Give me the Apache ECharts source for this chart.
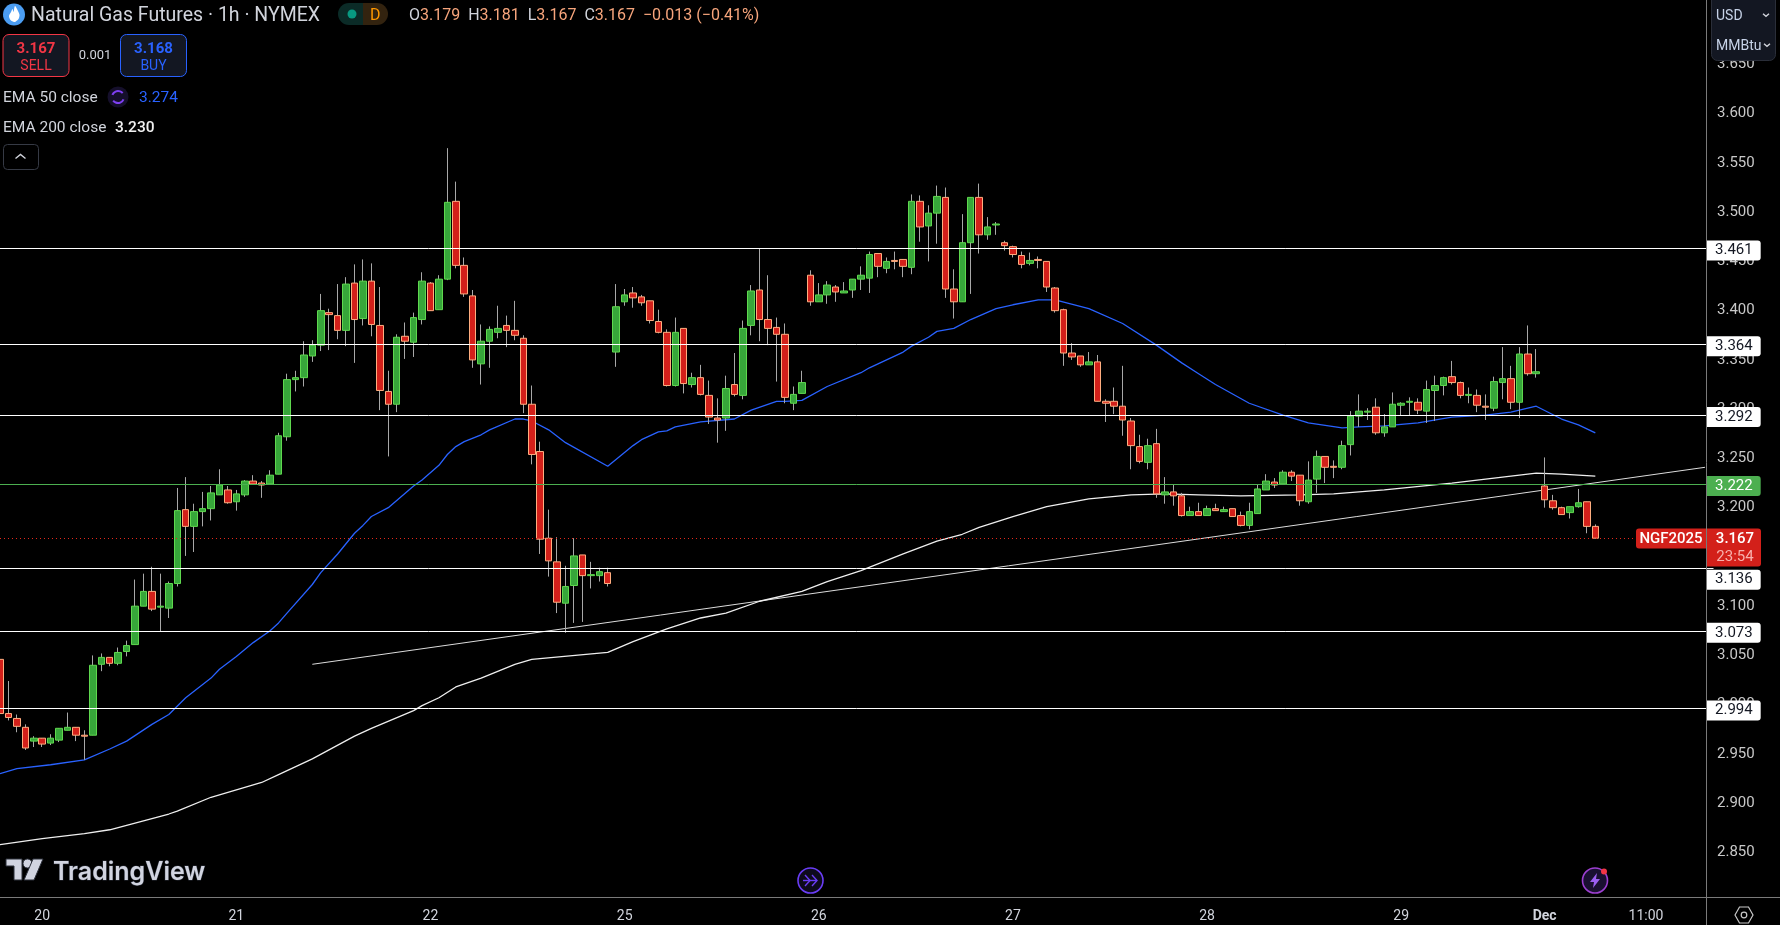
<!DOCTYPE html>
<html>
<head>
<meta charset="utf-8">
<title>Natural Gas Futures</title>
<script src="https://cdn.jsdelivr.net/npm/echarts@6/dist/echarts.min.js"></script>
<style>
  html, body { margin: 0; padding: 0; background: #000; }
  #main { width: 1780px; height: 925px; }
</style>
</head>
<body>
<div id="main"></div>
<script>
// hourly candles: open, close, low, high
var candles = [
[3.044,2.989,2.989,3.044],[2.989,2.985,2.982,3.022],[2.984,2.976,2.970,2.988],[2.975,2.954,2.952,2.978],[2.961,2.964,2.955,2.966],
[2.964,2.958,2.955,2.964],[2.959,2.964,2.957,2.968],[2.962,2.974,2.960,2.974],[2.972,2.975,2.972,2.990],[2.975,2.967,2.961,2.975],
[2.967,2.966,2.942,2.972],[2.967,3.038,2.967,3.048],[3.039,3.046,3.032,3.050],[3.046,3.040,3.037,3.046],[3.040,3.051,3.038,3.056],
[3.052,3.058,3.047,3.063],[3.059,3.098,3.059,3.125],[3.098,3.113,3.098,3.131],[3.113,3.095,3.093,3.138],[3.097,3.098,3.072,3.131],
[3.096,3.121,3.086,3.123],[3.121,3.195,3.118,3.218],[3.196,3.179,3.149,3.229],[3.179,3.194,3.153,3.202],[3.194,3.197,3.179,3.214],
[3.197,3.213,3.185,3.220],[3.211,3.221,3.211,3.237],[3.216,3.203,3.202,3.220],[3.204,3.212,3.195,3.216],[3.211,3.225,3.209,3.226],
[3.225,3.222,3.222,3.231],[3.223,3.221,3.208,3.225],[3.222,3.231,3.222,3.236],[3.232,3.271,3.232,3.274],[3.270,3.328,3.266,3.334],
[3.328,3.330,3.316,3.337],[3.330,3.353,3.321,3.367],[3.352,3.363,3.346,3.368],[3.363,3.398,3.357,3.415],[3.396,3.394,3.358,3.400],
[3.393,3.378,3.369,3.425],[3.378,3.425,3.362,3.432],[3.426,3.389,3.345,3.445],[3.390,3.428,3.383,3.450],[3.428,3.384,3.372,3.446],
[3.383,3.317,3.297,3.422],[3.316,3.303,3.250,3.337],[3.303,3.371,3.295,3.374],[3.372,3.367,3.349,3.386],[3.366,3.391,3.351,3.396],
[3.389,3.428,3.384,3.437],[3.426,3.398,3.398,3.427],[3.399,3.430,3.399,3.434],[3.430,3.508,3.429,3.563],[3.509,3.444,3.441,3.529],
[3.444,3.415,3.412,3.452],[3.413,3.348,3.340,3.419],[3.344,3.367,3.323,3.384],[3.367,3.379,3.340,3.382],[3.376,3.380,3.370,3.403],
[3.383,3.378,3.361,3.393],[3.378,3.373,3.368,3.408],[3.370,3.303,3.294,3.373],[3.303,3.252,3.242,3.322],[3.255,3.166,3.151,3.265],
[3.167,3.144,3.128,3.196],[3.143,3.102,3.091,3.168],[3.101,3.118,3.071,3.139],[3.119,3.149,3.081,3.167],[3.150,3.129,3.082,3.150],
[3.129,3.130,3.116,3.143],[3.129,3.133,3.123,3.137],[3.132,3.121,3.118,3.137],[3.356,3.402,3.341,3.425],[3.407,3.414,3.403,3.420],
[3.416,3.411,3.401,3.422],[3.412,3.406,3.403,3.414],[3.408,3.388,3.385,3.408],[3.387,3.376,3.375,3.399],[3.376,3.322,3.321,3.379],
[3.322,3.376,3.321,3.391],[3.380,3.324,3.314,3.380],[3.323,3.330,3.320,3.335],[3.330,3.313,3.312,3.343],[3.312,3.290,3.283,3.327],
[3.289,3.287,3.264,3.309],[3.289,3.319,3.276,3.332],[3.323,3.313,3.311,3.355],[3.312,3.380,3.308,3.388],[3.383,3.418,3.373,3.424],
[3.419,3.389,3.367,3.461],[3.389,3.380,3.363,3.434],[3.381,3.374,3.326,3.391],[3.374,3.310,3.304,3.385],[3.304,3.313,3.297,3.321],
[3.314,3.325,3.314,3.337],[3.434,3.407,3.403,3.439],[3.407,3.414,3.407,3.426],[3.414,3.424,3.405,3.428],[3.422,3.417,3.407,3.424],
[3.416,3.418,3.416,3.427],[3.419,3.430,3.411,3.430],[3.430,3.434,3.419,3.443],[3.431,3.455,3.416,3.458],[3.456,3.443,3.432,3.456],
[3.441,3.448,3.436,3.452],[3.449,3.448,3.440,3.458],[3.450,3.443,3.432,3.450],[3.442,3.509,3.435,3.516],[3.509,3.483,3.468,3.515],
[3.484,3.497,3.448,3.505],[3.497,3.514,3.466,3.525],[3.513,3.420,3.411,3.523],[3.420,3.407,3.390,3.440],[3.407,3.467,3.407,3.496],
[3.467,3.513,3.415,3.513],[3.513,3.475,3.456,3.527],[3.475,3.483,3.470,3.493],[3.485,3.486,3.475,3.488],[3.467,3.464,3.459,3.469],
[3.463,3.455,3.452,3.464],[3.454,3.445,3.441,3.458],[3.446,3.449,3.444,3.457],[3.450,3.449,3.441,3.453],[3.448,3.422,3.417,3.448],
[3.421,3.398,3.396,3.422],[3.399,3.355,3.342,3.400],[3.355,3.351,3.348,3.365],[3.352,3.343,3.341,3.352],[3.343,3.346,3.343,3.356],
[3.346,3.306,3.306,3.353],[3.306,3.304,3.285,3.308],[3.306,3.301,3.293,3.320],[3.301,3.287,3.271,3.342],[3.286,3.261,3.237,3.289],
[3.260,3.245,3.243,3.272],[3.244,3.261,3.237,3.268],[3.263,3.212,3.208,3.278],[3.211,3.214,3.202,3.229],[3.214,3.210,3.200,3.221],
[3.210,3.190,3.189,3.213],[3.190,3.194,3.190,3.199],[3.194,3.190,3.190,3.203],[3.190,3.197,3.190,3.200],[3.197,3.195,3.195,3.202],
[3.194,3.196,3.194,3.199],[3.197,3.189,3.189,3.197],[3.190,3.180,3.179,3.194],[3.180,3.194,3.176,3.203],[3.192,3.217,3.192,3.222],
[3.216,3.225,3.216,3.232],[3.224,3.221,3.218,3.228],[3.222,3.234,3.221,3.236],[3.234,3.230,3.225,3.236],[3.231,3.205,3.200,3.231],
[3.204,3.226,3.202,3.245],[3.227,3.250,3.213,3.256],[3.250,3.239,3.223,3.250],[3.240,3.239,3.228,3.246],[3.239,3.261,3.237,3.266],
[3.262,3.291,3.251,3.296],[3.291,3.296,3.280,3.313],[3.295,3.296,3.287,3.299],[3.300,3.274,3.272,3.309],[3.274,3.280,3.270,3.293],
[3.280,3.303,3.280,3.315],[3.302,3.304,3.292,3.305],[3.305,3.306,3.292,3.310],[3.305,3.297,3.293,3.309],[3.296,3.318,3.284,3.327],
[3.317,3.322,3.286,3.332],[3.322,3.330,3.312,3.331],[3.331,3.325,3.323,3.347],[3.325,3.312,3.309,3.326],[3.312,3.313,3.304,3.320],
[3.312,3.302,3.295,3.318],[3.301,3.300,3.287,3.313],[3.299,3.326,3.296,3.331],[3.325,3.329,3.308,3.361],[3.329,3.305,3.298,3.342],
[3.305,3.354,3.289,3.361],[3.354,3.334,3.332,3.383],[3.334,3.336,3.330,3.359],[3.220,3.206,3.198,3.249],[3.205,3.198,3.196,3.211],
[3.198,3.191,3.191,3.199],[3.193,3.199,3.187,3.199],[3.199,3.203,3.198,3.217],[3.204,3.179,3.172,3.204],[3.179,3.167,3.167,3.181]
];

// EMA readings, [candle index, price]
var ema50 = [
[0,2.928],[2,2.933],[6,2.937],[10,2.942],[13,2.953],[15,2.961],[18,2.978],[20,2.988],[22,3.005],[25,3.025],[26,3.034],[28,3.047],
[30,3.061],[32,3.073],[33,3.081],[34,3.091],[37,3.120],[38,3.132],[40,3.151],[42,3.172],[43,3.180],[44,3.189],[46,3.198],[49,3.220],
[50,3.226],[52,3.241],[53,3.252],[54,3.260],[55,3.265],[57,3.272],[58,3.277],[61,3.288],[62,3.288],[63,3.286],[65,3.277],[67,3.264],
[72,3.240],[75,3.261],[76,3.267],[78,3.275],[79,3.276],[80,3.280],[83,3.285],[87,3.288],[89,3.297],[92,3.306],[93,3.306],[95,3.307],
[98,3.321],[102,3.335],[103,3.340],[107,3.356],[108,3.362],[110,3.371],[111,3.377],[113,3.380],[115,3.389],[118,3.400],[120,3.404],
[123,3.409],[125,3.409],[129,3.400],[133,3.385],[137,3.363],[140,3.345],[142,3.334],[144,3.323],[148,3.304],[152,3.292],[155,3.284],
[159,3.279],[161,3.280],[164,3.281],[168,3.284],[172,3.290],[176,3.292],[179,3.295],[182,3.301],[185,3.288],[187,3.282],[189,3.274]
];
var ema200 = [
[0,2.856],[5,2.862],[10,2.867],[13,2.871],[20,2.887],[21,2.890],[25,2.904],[31,2.919],[33,2.927],[37,2.943],[42,2.966],[44,2.974],
[49,2.992],[50,2.997],[52,3.005],[54,3.016],[57,3.025],[61,3.039],[63,3.044],[72,3.051],[75,3.062],[79,3.075],[83,3.086],[86,3.091],
[90,3.103],[95,3.113],[98,3.123],[102,3.134],[107,3.151],[111,3.164],[114,3.171],[116,3.178],[120,3.189],[124,3.199],[129,3.207],
[134,3.211],[138,3.212],[142,3.211],[147,3.210],[154,3.211],[158,3.212],[164,3.216],[172,3.223],[176,3.227],[182,3.233],[185,3.232],[189,3.230]
];
var trendLine = [[37, 3.039], [202, 3.239]];

var whiteLevels = [3.461, 3.364, 3.292, 3.136, 3.073, 2.994];
var greenLevel = 3.222;
var lastPrice = 3.167;

var priceMin = 2.85;
var priceMax = 3.65;
var priceStep = 0.05;

var timeTicks = {5:'20', 28:'21', 51:'22', 74:'25', 97:'26', 120:'27', 143:'28', 166:'29', 183:'Dec', 195:'11:00'};
var categories = [];
for (var n = 0; n < 204; n++) categories.push(String(n));

var FONT = 'Roboto, sans-serif';
var GREY = '#d1d4dc';

function levelLabel(value, bg, fg) {
  // the 3.136 tag gets pushed down out of the way of the red last price tag
  var dy = value === 3.136 ? 11 : 2;
  return {
    show: true, position: 'end', distance: -6.5,
    offset: [0, dy],
    formatter: value.toFixed(3),
    backgroundColor: bg, color: fg, fontFamily: FONT, fontSize: 15,
    padding: [4, 8, 2, 8], lineHeight: 14, borderRadius: [0, 3, 3, 0]
  };
}

var levelData = whiteLevels.map(function (v) {
  return { yAxis: v, lineStyle: { color: '#ffffff', width: 1, type: 'solid' }, label: levelLabel(v, '#ffffff', '#131722') };
});
levelData.push({ yAxis: greenLevel, lineStyle: { color: '#4caf50', width: 1, type: 'solid' }, label: levelLabel(greenLevel, '#4caf50', '#ffffff') });
levelData.push({ yAxis: lastPrice, lineStyle: { color: '#e5281c', width: 1, type: [1, 3] }, label: { show: false } });

function text(x, y, str, font, color, extra) {
  var st = { x: x, y: y + 1, text: str, font: font, fill: color, textVerticalAlign: 'middle', textAlign: 'left' };
  for (var k in (extra || {})) st[k] = extra[k];
  return { type: 'text', z: 100, silent: true, style: st };
}
function box(x, y, w, h, r, fill, stroke, lw) {
  return { type: 'rect', z: 99, silent: true, shape: { x: x, y: y, width: w, height: h, r: r },
    style: { fill: fill, stroke: stroke || null, lineWidth: lw || 0 } };
}
function chevron(cx, cy, w, h, up, color) {
  var dy = up ? -h : h;
  return { type: 'polyline', z: 100, silent: true,
    shape: { points: [[cx - w, cy - dy / 2], [cx, cy + dy / 2], [cx + w, cy - dy / 2]] },
    style: { stroke: color, lineWidth: 1.4, fill: null } };
}
function line(x1, y1, x2, y2, color, lw) {
  return { type: 'line', z: 98, silent: true, shape: { x1: x1, y1: y1, x2: x2, y2: y2 }, style: { stroke: color, lineWidth: lw || 1 } };
}

var chrome = [
  // pane borders
  line(1706.5, 0, 1706.5, 925, '#7a7a7a'),
  line(0, 897.5, 1780, 897.5, '#7a7a7a'),

  // symbol icon and title
  { type: 'circle', z: 99, silent: true, shape: { cx: 14, cy: 14.5, r: 11 }, style: { fill: '#4b9df2' } },
  { type: 'polygon', z: 100, silent: true,
    shape: { points: [[15, 6], [18, 11], [19.5, 15], [18.5, 19], [14.5, 22], [10.5, 20], [9, 16], [11, 12], [12.5, 9], [13.5, 12]], smooth: 0.3 },
    style: { fill: '#ffffff' } },
  text(31, 15, 'Natural Gas Futures · 1h · NYMEX', '19.5px ' + FONT, GREY),

  // market status pill
  { type: 'rect', z: 99, silent: true, shape: { x: 338, y: 3, width: 25, height: 22, r: [11, 0, 0, 11] }, style: { fill: '#0b2b27' } },
  { type: 'rect', z: 99, silent: true, shape: { x: 363, y: 3, width: 25, height: 22, r: [0, 11, 11, 0] }, style: { fill: '#33230f' } },
  { type: 'circle', z: 100, silent: true, shape: { cx: 352, cy: 14, r: 4.5 }, style: { fill: '#089981' } },
  text(370, 15, 'D', '16px ' + FONT, '#ff9800'),

  // OHLC
  { type: 'text', z: 100, silent: true, style: {
    x: 409, y: 16, textVerticalAlign: 'middle',
    text: '{l|O}{v|3.179}  {l|H}{v|3.181}  {l|L}{v|3.167}  {l|C}{v|3.167}  {v|−0.013 (−0.41%)}',
    font: '16px ' + FONT,
    rich: { l: { fill: GREY, font: '16px ' + FONT }, v: { fill: '#f7a57c', font: '16px ' + FONT } }
  } },

  // sell and buy
  box(3, 34.5, 66, 42, 6, '#131722', '#f23645', 1),
  text(36, 48, '3.167', 'bold 15px ' + FONT, '#f23645', { textAlign: 'center' }),
  text(36, 65, 'SELL', '14px ' + FONT, '#f23645', { textAlign: 'center' }),
  text(95, 55, '0.001', '13px ' + FONT, GREY, { textAlign: 'center' }),
  box(120.5, 34.5, 66, 42, 6, '#131722', '#2962ff', 1),
  text(153.5, 48, '3.168', 'bold 15px ' + FONT, '#2962ff', { textAlign: 'center' }),
  text(153.5, 65, 'BUY', '14px ' + FONT, '#2962ff', { textAlign: 'center' }),

  // indicator legend
  text(3, 97, 'EMA 50 close', '15.5px ' + FONT, GREY),
  { type: 'circle', z: 99, silent: true, shape: { cx: 118, cy: 97, r: 10.5 }, style: { fill: '#150f2b' } },
  { type: 'arc', z: 100, silent: true, shape: { cx: 118, cy: 97, r: 6, startAngle: 3.5, endAngle: 5.6 }, style: { stroke: '#7e3ff2', lineWidth: 2, fill: null } },
  { type: 'arc', z: 100, silent: true, shape: { cx: 118, cy: 97, r: 6, startAngle: 0.4, endAngle: 2.5 }, style: { stroke: '#7e3ff2', lineWidth: 2, fill: null } },
  text(139, 97, '3.274', '15.5px ' + FONT, '#2962ff'),
  text(3, 127, 'EMA 200 close', '15.5px ' + FONT, GREY),
  text(115, 127, '3.230', '500 15.5px ' + FONT, '#f0f0f0'),
  box(3.5, 144.5, 35, 25, 4, '#000000', '#363a45', 1),
  chevron(20.5, 156.5, 5, 4, true, '#d1d4dc'),

  // currency and unit selector
  box(1711.5, -6, 64, 66.5, 6, '#131722', '#2a2e39', 1),
  text(1716, 15, 'USD', '14px ' + FONT, '#c7d3e8'),
  chevron(1766, 15, 3, 2.5, false, '#d1d4dc'),
  text(1716, 45, 'MMBtu', '14px ' + FONT, '#c7d3e8'),
  chevron(1767, 45, 3, 2.5, false, '#d1d4dc'),

  // last price tags
  { type: 'rect', z: 99, silent: true, shape: { x: 1636, y: 528.5, width: 70, height: 20, r: [3, 0, 0, 3] }, style: { fill: '#d3201a' } },
  text(1671, 538, 'NGF2025', '500 15px ' + FONT, '#ffffff', { textAlign: 'center' }),
  { type: 'rect', z: 99, silent: true, shape: { x: 1707, y: 528.5, width: 54, height: 38, r: [0, 3, 3, 0] }, style: { fill: '#d3201a' } },
  text(1735, 538, '3.167', '500 15px ' + FONT, '#ffffff', { textAlign: 'center' }),
  text(1735, 556, '23:54', '15px ' + FONT, '#f7b0ac', { textAlign: 'center' }),

  // watermark
  { type: 'polygon', z: 100, silent: true, shape: { points: [[6, 859], [22, 859], [22, 880], [14, 880], [14, 866], [6, 866]] }, style: { fill: '#d1d4e0', stroke: '#2a2e39', lineWidth: 1 } },
  { type: 'circle', z: 100, silent: true, shape: { cx: 27.5, cy: 863.5, r: 4.5 }, style: { fill: '#d1d4e0', stroke: '#2a2e39', lineWidth: 1 } },
  { type: 'polygon', z: 100, silent: true, shape: { points: [[33, 859], [43, 859], [34, 880], [24, 880]] }, style: { fill: '#d1d4e0', stroke: '#2a2e39', lineWidth: 1 } },
  text(53, 871, 'TradingView', '600 25px Inter, ' + FONT, '#d1d4e0', { stroke: '#2a2e39', lineWidth: 1 }),

  // event icons
  { type: 'circle', z: 100, silent: true, shape: { cx: 810.5, cy: 880.5, r: 12.5 }, style: { fill: '#0d0a1c', stroke: '#6a3df5', lineWidth: 1.6 } },
  { type: 'polyline', z: 100, silent: true, shape: { points: [[803, 880.5], [817, 880.5]] }, style: { stroke: '#6a3df5', lineWidth: 1.4, fill: null } },
  { type: 'polyline', z: 100, silent: true, shape: { points: [[805, 875], [810, 880.5], [805, 886]] }, style: { stroke: '#6a3df5', lineWidth: 1.4, fill: null } },
  { type: 'polyline', z: 100, silent: true, shape: { points: [[812, 875], [817, 880.5], [812, 886]] }, style: { stroke: '#6a3df5', lineWidth: 1.4, fill: null } },
  { type: 'circle', z: 100, silent: true, shape: { cx: 1595, cy: 880.5, r: 12.5 }, style: { fill: '#1a1030', stroke: '#9c3fd0', lineWidth: 1.6 } },
  { type: 'polygon', z: 100, silent: true, shape: { points: [[1597, 873], [1590, 882], [1594, 882], [1593, 888], [1600, 879], [1596, 879]] }, style: { fill: '#9c5ff0' } },
  { type: 'circle', z: 101, silent: true, shape: { cx: 1604, cy: 871.5, r: 3 }, style: { fill: '#f23645' } },

  // settings hexagon
  { type: 'polygon', z: 100, silent: true, shape: { points: [[1735, 915], [1739.5, 907], [1748.5, 907], [1753, 915], [1748.5, 923], [1739.5, 923]] }, style: { fill: null, stroke: '#c8c8c8', lineWidth: 1.2 } },
  { type: 'circle', z: 100, silent: true, shape: { cx: 1744, cy: 915, r: 2.8 }, style: { fill: null, stroke: '#c8c8c8', lineWidth: 1.2 } }
];

var myChart = echarts.init(document.getElementById('main'), null, { renderer: 'canvas' });

var option = {
  backgroundColor: '#000000',
  animation: false,
  grid: { left: 0, top: 62.45, width: 1713.5, height: 788, outerBoundsMode: 'none' },
  xAxis: {
    type: 'category',
    data: categories,
    boundaryGap: false,
    offset: 46.6,
    axisLine: { show: false },
    axisTick: { show: false },
    splitLine: { show: false },
    axisLabel: {
      interval: 0,
      margin: 12,
      hideOverlap: false,
      color: GREY,
      fontFamily: FONT,
      fontSize: 14,
      formatter: function (value, index) {
        var t = timeTicks[index];
        if (!t) return '';
        return t === 'Dec' ? '{b|Dec}' : t;
      },
      rich: { b: { fontWeight: 'bold', color: GREY, fontFamily: FONT, fontSize: 14 } }
    }
  },
  yAxis: {
    type: 'value',
    position: 'right',
    min: priceMin,
    max: priceMax,
    interval: priceStep,
    scale: true,
    axisLine: { show: false },
    axisTick: { show: false },
    splitLine: { show: false },
    axisLabel: {
      margin: 3.5,
      color: '#c8c8c8',
      fontFamily: FONT,
      fontSize: 15,
      verticalAlign: 'top',
      lineHeight: 4,
      formatter: function (v) { return v.toFixed(3); }
    }
  },
  graphic: { elements: chrome },
  series: [
    {
      name: 'levels',
      type: 'line',
      z: 1,
      data: [],
      markLine: { symbol: 'none', silent: true, animation: false, precision: 3, data: levelData }
    },
    {
      name: 'trend',
      type: 'line',
      z: 2,
      data: trendLine,
      showSymbol: false,
      lineStyle: { color: '#dcdcdc', width: 1 }
    },
    {
      name: 'EMA 200',
      type: 'line',
      z: 2,
      data: ema200,
      showSymbol: false,
      lineStyle: { color: '#eeeeee', width: 1.3 }
    },
    {
      name: 'EMA 50',
      type: 'line',
      z: 2,
      data: ema50,
      showSymbol: false,
      lineStyle: { color: '#2962ff', width: 1.3 }
    },
    {
      // wicks, grey for both directions
      name: 'wicks',
      type: 'candlestick',
      z: 3,
      barWidth: 1,
      data: candles,
      itemStyle: { color: '#a8a8a8', color0: '#a8a8a8', borderColor: '#a8a8a8', borderColor0: '#a8a8a8', borderWidth: 1 }
    },
    {
      // bodies on top of the wicks, high and low clamped to the body
      name: 'bodies',
      type: 'candlestick',
      z: 4,
      barWidth: 7,
      data: candles.map(function (c) {
        return [c[0], c[1], Math.min(c[0], c[1]), Math.max(c[0], c[1])];
      }),
      itemStyle: { color: '#37a63a', color0: '#d3201a', borderColor: '#5fd84f', borderColor0: '#ffae80', borderWidth: 1 }
    }
  ]
};

myChart.setOption(option);
</script>
</body>
</html>
